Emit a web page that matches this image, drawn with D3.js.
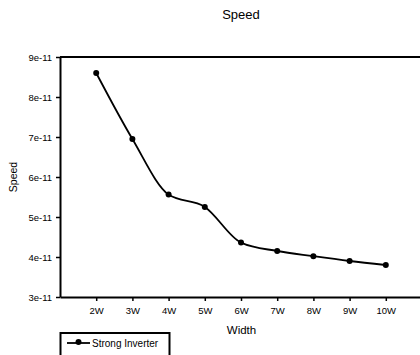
<!DOCTYPE html>
<html>
<head>
<meta charset="utf-8">
<script src="https://cdn.jsdelivr.net/npm/d3@7"></script>
<style>
  body { margin: 0; background: #fff; }
  svg { font-family: "Liberation Sans", Arial, sans-serif; }
</style>
</head>
<body>
<svg width="420" height="355"></svg>
<script>
var widths = [2, 3, 4, 5, 6, 7, 8, 9, 10];
var speed = [8.6e-11, 6.95e-11, 5.56e-11, 5.25e-11, 4.36e-11, 4.15e-11, 4.02e-11, 3.9e-11, 3.8e-11];
var yTicks = [3e-11, 4e-11, 5e-11, 6e-11, 7e-11, 8e-11, 9e-11];
var yTickLabels = ["3e-11", "4e-11", "5e-11", "6e-11", "7e-11", "8e-11", "9e-11"];
var seriesName = "Strong Inverter";

var svg = d3.select("svg");
var plotLeft = 60, plotTop = 57, plotRight = 422, plotBottom = 297;

var x = d3.scaleLinear().domain([1, 11]).range([plotLeft, plotRight]);
var y = d3.scaleLinear().domain([3e-11, 9e-11]).range([plotBottom, plotTop]);

// frame: top border line
svg.append("line")
    .attr("x1", plotLeft).attr("x2", 420)
    .attr("y1", plotTop).attr("y2", plotTop)
    .attr("stroke", "#000").attr("stroke-width", 2);

var xAxis = d3.axisBottom(x)
    .tickValues(widths)
    .tickSize(4)
    .tickSizeOuter(0)
    .tickFormat(function(d) { return d + "W"; });

var yAxis = d3.axisLeft(y)
    .tickValues(yTicks)
    .tickSize(4)
    .tickSizeOuter(0)
    .tickFormat(function(d, i) { return yTickLabels[i]; });

var gx = svg.append("g")
    .attr("transform", "translate(0," + plotBottom + ")")
    .call(xAxis);
var gy = svg.append("g")
    .attr("transform", "translate(" + plotLeft + ",0)")
    .call(yAxis);

[gx, gy].forEach(function(g) {
  g.select(".domain").attr("stroke", "#000").attr("stroke-width", 2);
  g.selectAll(".tick line").attr("stroke", "#000").attr("stroke-width", 1.5);
  g.selectAll(".tick text").attr("font-size", 9.5).attr("fill", "#000")
    .attr("font-family", "Liberation Sans, Arial, sans-serif");
});
gx.selectAll(".tick text").attr("dy", "1.1em");
gy.selectAll(".tick text").attr("x", -8);

// data line
var line = d3.line()
    .x(function(d, i) { return x(widths[i]); })
    .y(function(d) { return y(d); })
    .curve(d3.curveMonotoneX);

svg.append("path")
    .datum(speed)
    .attr("d", line)
    .attr("fill", "none")
    .attr("stroke", "#000")
    .attr("stroke-width", 1.8);

svg.selectAll("circle.pt")
    .data(speed)
    .enter()
    .append("circle")
    .attr("class", "pt")
    .attr("cx", function(d, i) { return x(widths[i]); })
    .attr("cy", function(d) { return y(d); })
    .attr("r", 3)
    .attr("fill", "#000");

// titles
svg.append("text")
    .attr("x", 241).attr("y", 19)
    .attr("text-anchor", "middle")
    .attr("font-size", 13)
    .text("Speed");

svg.append("text")
    .attr("x", 241.5).attr("y", 334)
    .attr("text-anchor", "middle")
    .attr("font-size", 11.5)
    .text("Width");

svg.append("text")
    .attr("transform", "translate(17,177) rotate(-90)")
    .attr("text-anchor", "middle")
    .attr("font-size", 10.5)
    .text("Speed");

// legend
var lg = svg.append("g");
lg.append("rect")
    .attr("x", 60.5).attr("y", 333)
    .attr("width", 109).attr("height", 30)
    .attr("fill", "#fff")
    .attr("stroke", "#000").attr("stroke-width", 2);
lg.append("line")
    .attr("x1", 67).attr("x2", 90)
    .attr("y1", 343).attr("y2", 343)
    .attr("stroke", "#000").attr("stroke-width", 1.8);
lg.append("circle")
    .attr("cx", 78.5).attr("cy", 342).attr("r", 3)
    .attr("fill", "#000");
lg.append("text")
    .attr("x", 92).attr("y", 346.5)
    .attr("font-size", 10)
    .text(seriesName);
</script>
</body>
</html>
